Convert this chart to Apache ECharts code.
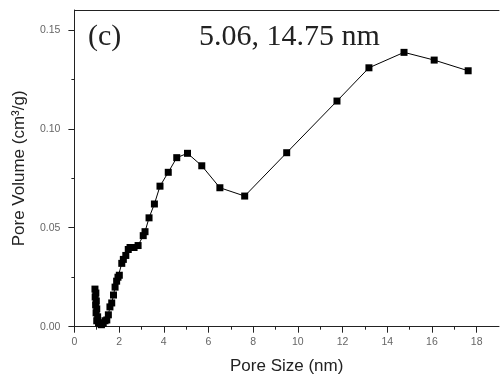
<!DOCTYPE html>
<html>
<head>
<meta charset="utf-8">
<script src="https://cdn.jsdelivr.net/npm/echarts@6/dist/echarts.min.js"></script>
<style>html,body{margin:0;padding:0;background:#fff}#c{width:500px;height:383px}</style>
</head>
<body>
<div id="c"></div>
<script>
const poreSize = [0.92,0.96,0.93,0.98,0.95,1.00,0.97,1.04,1.00,1.08,1.14,1.21,1.29,1.37,1.45,1.52,1.59,1.67,1.75,1.82,1.89,1.95,2.01,2.12,2.19,2.30,2.41,2.49,2.67,2.85,3.08,3.16,3.34,3.58,3.83,4.20,4.58,5.06,5.70,6.51,7.62,9.50,11.75,13.18,14.75,16.10,17.62];
const poreVolume = [0.019,0.017,0.015,0.013,0.011,0.009,0.007,0.005,0.003,0.002,0.0015,0.001,0.0017,0.003,0.0034,0.006,0.010,0.012,0.016,0.020,0.023,0.025,0.026,0.032,0.034,0.036,0.039,0.040,0.040,0.041,0.046,0.048,0.055,0.062,0.071,0.078,0.0854,0.0876,0.0813,0.0702,0.066,0.0879,0.114,0.1308,0.1386,0.1347,0.1293];
const xMajorTicks = [0,2,4,6,8,10,12,14,16,18];
const xMinorTicks = [1,3,5,7,9,11,13,15,17];
const yMajorTicks = [0,0.05,0.10,0.15];
const yMinorTicks = [0.025,0.075,0.125];
const panelLabel = '(c)';
const peakLabel = '5.06, 14.75 nm';

const chart = echarts.init(document.getElementById('c'), null, {renderer:'canvas'});
const axisColor = '#222';
const labelStyle = {color:'#666', fontSize:10.5, fontFamily:'Liberation Sans, Arial, sans-serif'};
chart.setOption({
  animation:false,
  backgroundColor:'#fff',
  grid:{left:74.4, right:1, top:10, bottom:56.3, outerBoundsMode:'none', containLabel:false},
  xAxis:[
    {type:'value', min:0, max:19, position:'bottom',
     axisLine:{show:true, lineStyle:{color:axisColor, width:1}},
     axisTick:{show:true, inside:false, length:6, customValues:xMajorTicks, lineStyle:{color:axisColor}},
     axisLabel:{show:true, customValues:xMajorTicks, margin:10, ...labelStyle},
     splitLine:{show:false},
     name:'Pore Size (nm)', nameLocation:'middle', nameGap:31,
     nameTextStyle:{color:'#222', fontSize:17, fontFamily:'Liberation Sans, Arial, sans-serif'}},
    {type:'value', min:0, max:19, position:'bottom',
     axisLine:{show:false},
     axisTick:{show:true, length:3, customValues:xMinorTicks, lineStyle:{color:axisColor}},
     axisLabel:{show:false}, splitLine:{show:false}},
    {type:'value', min:0, max:19, position:'top',
     axisLine:{show:true, lineStyle:{color:axisColor, width:1}},
     axisTick:{show:false}, axisLabel:{show:false}, splitLine:{show:false}}
  ],
  yAxis:[
    {type:'value', min:0, max:0.16, position:'left',
     axisLine:{show:true, lineStyle:{color:axisColor, width:1}},
     axisTick:{show:true, length:6, customValues:yMajorTicks, lineStyle:{color:axisColor}},
     axisLabel:{show:true, customValues:yMajorTicks, margin:14, formatter:v=>v.toFixed(2), ...labelStyle},
     splitLine:{show:false},
     name:'Pore Volume (cm³/g)', nameLocation:'middle', nameGap:47,
     nameTextStyle:{color:'#222', fontSize:17, fontFamily:'Liberation Sans, Arial, sans-serif'}},
    {type:'value', min:0, max:0.16, position:'left',
     axisLine:{show:false},
     axisTick:{show:true, length:3, customValues:yMinorTicks, lineStyle:{color:axisColor}},
     axisLabel:{show:false}, splitLine:{show:false}}
  ],
  series:[{
    type:'line', xAxisIndex:0, yAxisIndex:0,
    data: poreSize.map((x,i)=>[x, poreVolume[i]]),
    symbol:'rect', symbolSize:7, showSymbol:true,
    lineStyle:{color:'#000', width:1},
    itemStyle:{color:'#000'}
  }],
  graphic:[
    {type:'text', left:88, top:22, style:{text:panelLabel, font:'30px "Liberation Serif", "Times New Roman", serif', fill:'#222'}},
    {type:'text', left:199, top:22, style:{text:peakLabel, font:'30px "Liberation Serif", "Times New Roman", serif', fill:'#222'}}
  ]
});
</script>
</body>
</html>
